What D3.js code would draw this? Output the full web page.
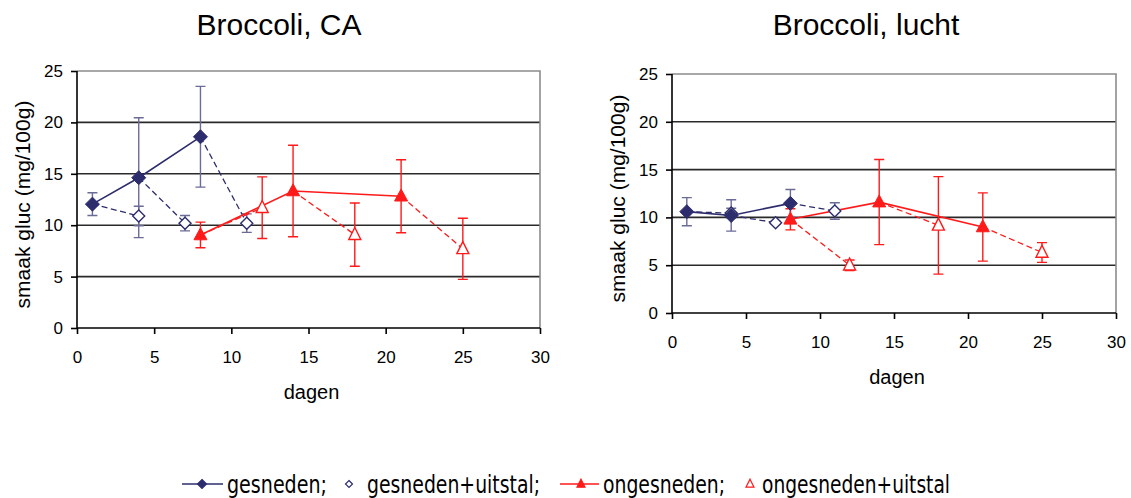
<!DOCTYPE html>
<html>
<head>
<meta charset="utf-8">
<script src="https://cdn.jsdelivr.net/npm/d3@7"></script>
<style>
  html, body { margin: 0; padding: 0; background: #fff; }
  svg { display: block; }
  text { font-family: "Liberation Sans", Arial, sans-serif; fill: #000; }
</style>
</head>
<body>
<svg id="chart" width="1131" height="498"></svg>
<script>
// ---------- data ----------
const xTicks = [0, 5, 10, 15, 20, 25, 30];
const yTicks = [0, 5, 10, 15, 20, 25];
const titles = ["Broccoli, CA", "Broccoli, lucht"];
const xTitle = "dagen";
const yTitle = "smaak gluc  (mg/100g)";
const seriesNames = ["gesneden;", "gesneden+uitstal;", "ongesneden;", "ongesneden+uitstal"];

// days
const daysCut = [1, 4, 8];
const daysCutStore = [4, 7, 11];
const daysWhole = [8, 14, 21];
const daysWholeStore = [12, 18, 25];

// Broccoli, CA
const caCut = [12.05, 14.62, 18.6];
const caCutErr = [1.1, 5.83, 4.9];
const caCutStore = [10.9, 10.2, 10.2];
const caCutStoreErr = [0.95, 0.75, 0.9];
const caWhole = [9.05, 13.33, 12.82];
const caWholeErr = [1.25, 4.45, 3.55];
const caWholeStore = [11.7, 9.08, 7.7];
const caWholeStoreErr = [3.0, 3.08, 2.97];

// Broccoli, lucht
const airCut = [10.6, 10.2, 11.47];
const airCutErr = [1.47, 1.64, 1.45];
const airCutStore = [10.45, 9.45, 10.67];
const airCutStoreErr = [0.5, 0.15, 0.87];
const airWhole = [9.8, 11.6, 9.0];
const airWholeErr = [1.1, 4.45, 3.57];
const airWholeStore = [5.0, 9.17, 6.33];
const airWholeStoreErr = [0.55, 5.1, 1.03];

// ---------- styles ----------
const NAVY = "#2d2d6e";
const NAVY_ERR = "#6b6b98";
const RED = "#ff1a1a";

const svg = d3.select("#chart");

function zip(xs, ys, es) { return xs.map((x, i) => ({ x, y: ys[i], e: es[i] })); }

const panels = [
  {
    title: titles[0], box: { l: 77, r: 540, t: 71, b: 328 }, titleX: 279,
    cut: zip(daysCut, caCut, caCutErr), cutStore: zip(daysCutStore, caCutStore, caCutStoreErr),
    whole: zip(daysWhole, caWhole, caWholeErr), wholeStore: zip(daysWholeStore, caWholeStore, caWholeStoreErr)
  },
  {
    title: titles[1], box: { l: 672, r: 1116, t: 74, b: 313 }, titleX: 866,
    cut: zip(daysCut, airCut, airCutErr), cutStore: zip(daysCutStore, airCutStore, airCutStoreErr),
    whole: zip(daysWhole, airWhole, airWholeErr), wholeStore: zip(daysWholeStore, airWholeStore, airWholeStoreErr)
  }
];

function diamondPath(s) {
  return `M0,${-s}L${s},0L0,${s}L${-s},0Z`;
}
function triPath(w, h) {
  return `M0,${-h * 0.6}L${w / 2},${h * 0.4}L${-w / 2},${h * 0.4}Z`;
}

panels.forEach(p => {
  const b = p.box;
  const x = d3.scaleLinear().domain([0, 30]).range([b.l, b.r]);
  const y = d3.scaleLinear().domain([0, 25]).range([b.b, b.t]);
  const g = svg.append("g");

  // title
  g.append("text").attr("x", p.titleX).attr("y", 35).attr("text-anchor", "middle")
    .style("font-size", "30px").text(p.title);

  // gridlines
  g.append("g").selectAll("line").data(yTicks.filter(t => t > 0 && t < 25)).join("line")
    .attr("x1", b.l).attr("x2", b.r).attr("y1", d => y(d)).attr("y2", d => y(d))
    .attr("stroke", "#2a2a2a").attr("stroke-width", 1.6);
  // top & right border
  g.append("path").attr("d", `M${b.l},${b.t}H${b.r}V${b.b}`)
    .attr("fill", "none").attr("stroke", "#8c8c8c").attr("stroke-width", 1.6);

  // axes
  const xAxis = d3.axisBottom(x).tickValues(xTicks).tickSize(6).tickPadding(17).tickFormat(d3.format("d"));
  const gx = g.append("g").attr("transform", `translate(0,${b.b})`).call(xAxis);
  gx.select(".domain").attr("stroke", "#000").attr("stroke-width", 1.6).attr("d", `M${b.l},0H${b.r}`);
  gx.selectAll(".tick line").attr("stroke", "#000").attr("stroke-width", 1.6);
  gx.selectAll(".tick text").style("font-size", "17px").style("font-family", "Liberation Sans, Arial, sans-serif").attr("fill", "#000");

  const yAxis = d3.axisLeft(y).tickValues(yTicks).tickSize(6).tickPadding(8).tickFormat(d3.format("d"));
  const gy = g.append("g").attr("transform", `translate(${b.l},0)`).call(yAxis);
  gy.select(".domain").attr("stroke", "#000").attr("stroke-width", 1.6).attr("d", `M0,${b.t}V${b.b}`);
  gy.selectAll(".tick line").attr("stroke", "#000").attr("stroke-width", 1.6);
  gy.selectAll(".tick text").style("font-size", "17px").style("font-family", "Liberation Sans, Arial, sans-serif").attr("fill", "#000");

  // axis titles
  g.append("text").attr("x", (b.l + b.r) / 2 + 3).attr("y", b.b + 71).attr("text-anchor", "middle")
    .style("font-size", "20px").text(xTitle);
  const yc = (b.t + b.b) / 2 + 5;
  g.append("text").attr("transform", `translate(${b.l - 47},${yc}) rotate(-90)`).attr("text-anchor", "middle")
    .style("font-size", "21px").text(yTitle);

  // error bars
  const cap = 5;
  function errBars(data, color) {
    const eg = g.append("g").attr("stroke", color).attr("stroke-width", 1.4).attr("fill", "none");
    eg.selectAll("path").data(data).join("path")
      .attr("d", d => {
        const cx = x(d.x), yt = y(d.y + d.e), yb = y(d.y - d.e);
        return `M${cx},${yt}V${yb}M${cx - cap},${yt}H${cx + cap}M${cx - cap},${yb}H${cx + cap}`;
      });
  }
  errBars(p.cut, NAVY_ERR);
  errBars(p.cutStore, NAVY_ERR);
  errBars(p.whole, RED);
  errBars(p.wholeStore, RED);

  const line = d3.line().x(d => x(d.x)).y(d => y(d.y));

  // dashed connectors from parent point to its display point
  function dashed(parent, store, color) {
    g.append("g").selectAll("path").data(store).join("path")
      .attr("d", (d, i) => line([parent[i], d]))
      .attr("fill", "none").attr("stroke", color).attr("stroke-width", 1.3)
      .attr("stroke-dasharray", "6,3.5");
  }
  dashed(p.cut, p.cutStore, NAVY);
  dashed(p.whole, p.wholeStore, RED);

  // solid lines
  g.append("path").attr("d", line(p.cut)).attr("fill", "none").attr("stroke", NAVY).attr("stroke-width", 1.6);
  g.append("path").attr("d", line(p.whole)).attr("fill", "none").attr("stroke", RED).attr("stroke-width", 1.6);

  // markers
  g.append("g").selectAll("path").data(p.cutStore).join("path")
    .attr("transform", d => `translate(${x(d.x)},${y(d.y)})`)
    .attr("d", diamondPath(6)).attr("fill", "#fff").attr("stroke", NAVY).attr("stroke-width", 1.4);
  g.append("g").selectAll("path").data(p.cut).join("path")
    .attr("transform", d => `translate(${x(d.x)},${y(d.y)})`)
    .attr("d", diamondPath(7)).attr("fill", NAVY).attr("stroke", NAVY).attr("stroke-width", 1);
  g.append("g").selectAll("path").data(p.wholeStore).join("path")
    .attr("transform", d => `translate(${x(d.x)},${y(d.y)})`)
    .attr("d", triPath(12, 12)).attr("fill", "#fff").attr("stroke", RED).attr("stroke-width", 1.4);
  g.append("g").selectAll("path").data(p.whole).join("path")
    .attr("transform", d => `translate(${x(d.x)},${y(d.y)})`)
    .attr("d", triPath(13, 12)).attr("fill", RED).attr("stroke", RED).attr("stroke-width", 1);
});

// ---------- legend ----------
const legendY = 484;
const legendItems = [
  { name: seriesNames[0], line: [182, 223], mx: 202, text: 227, w: 100, color: NAVY, shape: "diamond", filled: true },
  { name: seriesNames[1], line: null, mx: 349, text: 367, w: 173, color: NAVY, shape: "diamond", filled: false },
  { name: seriesNames[2], line: [560, 599], mx: 581, text: 603, w: 122, color: RED, shape: "tri", filled: true },
  { name: seriesNames[3], line: null, mx: 750, text: 762, w: 188, color: RED, shape: "tri", filled: false }
];
const lg = svg.append("g");
legendItems.forEach(it => {
  if (it.line) {
    lg.append("line").attr("x1", it.line[0]).attr("x2", it.line[1]).attr("y1", legendY).attr("y2", legendY)
      .attr("stroke", it.color).attr("stroke-width", 1.6);
  }
  lg.append("path").attr("transform", `translate(${it.mx},${legendY})`)
    .attr("d", it.shape === "diamond" ? diamondPath(it.filled ? 4.5 : 3.5) : triPath(8, 8))
    .attr("fill", it.filled ? it.color : "#fff").attr("stroke", it.color).attr("stroke-width", 1.2);
  lg.append("text").attr("x", it.text).attr("y", legendY + 9)
    .attr("textLength", it.w).attr("lengthAdjust", "spacingAndGlyphs")
    .style("font-family", "'Liberation Sans Narrow', 'DejaVu Sans Condensed', sans-serif")
    .style("font-size", "25px").text(it.name);
});
</script>
</body>
</html>
